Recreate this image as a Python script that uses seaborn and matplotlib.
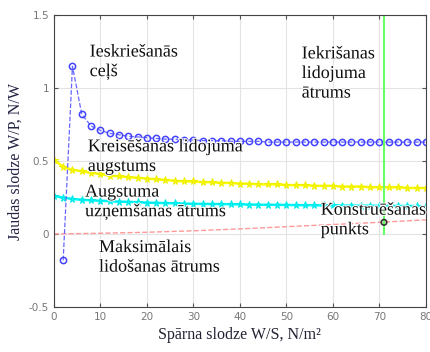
import seaborn as sns
import pandas as pd
import matplotlib.pyplot as plt
import matplotlib.patheffects as pe

# wing loading values (N/m2) and the power loading curves
x_blue = [2, 4, 6, 8, 10, 12, 14, 16, 18, 20, 22, 24, 26, 28, 30, 32, 34, 36, 38, 40,
          42, 44, 46, 48, 50, 52, 54, 56, 58, 60, 62, 64, 66, 68, 70, 72, 74, 76, 78, 80]
takeoff = [-0.18, 1.15, 0.82, 0.74, 0.71, 0.69, 0.68, 0.67, 0.665, 0.66, 0.655, 0.65,
           0.65, 0.645, 0.645, 0.64, 0.64, 0.64, 0.635, 0.635, 0.635, 0.635, 0.63, 0.63,
           0.63, 0.63, 0.63, 0.63, 0.63, 0.63, 0.63, 0.63, 0.63, 0.63, 0.63, 0.63, 0.63,
           0.63, 0.63, 0.63]

x_line = [0, 2, 4, 6, 8, 10, 12, 14, 16, 18, 20, 22, 24, 26, 28, 30, 32, 34, 36, 38, 40,
          42, 44, 46, 48, 50, 52, 54, 56, 58, 60, 62, 64, 66, 68, 70, 72, 74, 76, 78, 80]
cruise = [0.51, 0.46, 0.44, 0.43, 0.42, 0.41, 0.40, 0.395, 0.39, 0.385, 0.38, 0.375,
          0.37, 0.365, 0.36, 0.36, 0.355, 0.355, 0.35, 0.35, 0.345, 0.345, 0.34, 0.34,
          0.34, 0.335, 0.335, 0.335, 0.33, 0.33, 0.33, 0.325, 0.325, 0.325, 0.32, 0.32,
          0.32, 0.32, 0.315, 0.315, 0.315]
climb = [0.26, 0.25, 0.24, 0.235, 0.23, 0.228, 0.225, 0.222, 0.22, 0.218, 0.215, 0.213,
         0.212, 0.21, 0.208, 0.207, 0.206, 0.205, 0.205, 0.204, 0.203, 0.202, 0.201, 0.2,
         0.2, 0.199, 0.198, 0.197, 0.197, 0.196, 0.196, 0.195, 0.195, 0.194, 0.194, 0.193,
         0.193, 0.192, 0.192, 0.191, 0.19]

x_vmax = [0, 10, 20, 30, 40, 50, 60, 70, 80]
vmax = [0.0, 0.005, 0.012, 0.022, 0.035, 0.05, 0.065, 0.08, 0.097]

x_landing = [71, 71]
landing = [0.0, 1.5]

design_x = [71]
design_y = [0.08]

serif = "Liberation Serif"

fig = plt.figure(figsize=(4.31, 3.52), dpi=100)
ax = fig.add_axes([0.125, 0.128, 0.863, 0.829])

sns.lineplot(x=x_line, y=cruise, ax=ax, color="#ffff00", marker="*", markersize=5.5,
             markeredgecolor="#eeee00", linewidth=1.8)
sns.lineplot(x=x_line, y=climb, ax=ax, color="#00ffff", marker="*", markersize=5.5,
             markeredgecolor="#00e8e8", linewidth=1.8)
sns.lineplot(x=x_vmax, y=vmax, ax=ax, color="#ff9999", linestyle="--", linewidth=1)
sns.lineplot(x=x_blue, y=takeoff, ax=ax, color="#6666ff", linestyle="--", linewidth=0.9,
             marker="o", markersize=4.5, markerfacecolor="none", markeredgecolor="#4444ff",
             markeredgewidth=1.1)
sns.lineplot(x=x_landing, y=landing, ax=ax, color="#66ff66", linewidth=1.5,
             estimator=None, sort=False)
sns.scatterplot(x=design_x, y=design_y, ax=ax, s=16, facecolor="none",
                edgecolor="#333333", linewidth=1.2, zorder=5)

ax.set_xlim(0, 80)
ax.set_ylim(-0.5, 1.5)
ax.set_xticks([0, 10, 20, 30, 40, 50, 60, 70, 80])
ax.set_yticks([-0.5, 0, 0.5, 1, 1.5])
ax.set_yticklabels(["-0.5", "0", "0.5", "1", "1.5"])
ax.grid(True, color="#e3e3e3", linewidth=0.8)
ax.set_axisbelow(True)
ax.tick_params(direction="in", top=True, right=True, labelsize=7.5,
               labelcolor="#777777", color="#555555", length=3)
for s in ax.spines.values():
    s.set_color("#444444")

ax.set_xlabel("Spārna slodze W/S, N/m²", family=serif, fontsize=11.5, color="#222233")
ax.set_ylabel("Jaudas slodze W/P, N/W", family=serif, fontsize=11.5, color="#222244")

txt = dict(family=serif, fontsize=13, color="#111111", linespacing=1.2, va="center",
           path_effects=[pe.withStroke(linewidth=1.5, foreground="white")], zorder=6)
ax.text(7.7, 1.18, "Ieskriešanās\nceļš", **txt)
ax.text(53.3, 1.10, "Iekrišanas\nlidojuma\nātrums", **txt)
ax.text(7.3, 0.53, "Kreisēšanas lidojuma\naugstums", **txt)
ax.text(6.7, 0.22, "Augstuma\nuzņemšanas ātrums", **txt)
ax.text(9.7, -0.16, "Maksimālais\nlidošanas ātrums", **txt)
ax.text(57.4, 0.096, "Konstruēšanas\npunkts", **txt)

fig.savefig("out.png", dpi=100)
